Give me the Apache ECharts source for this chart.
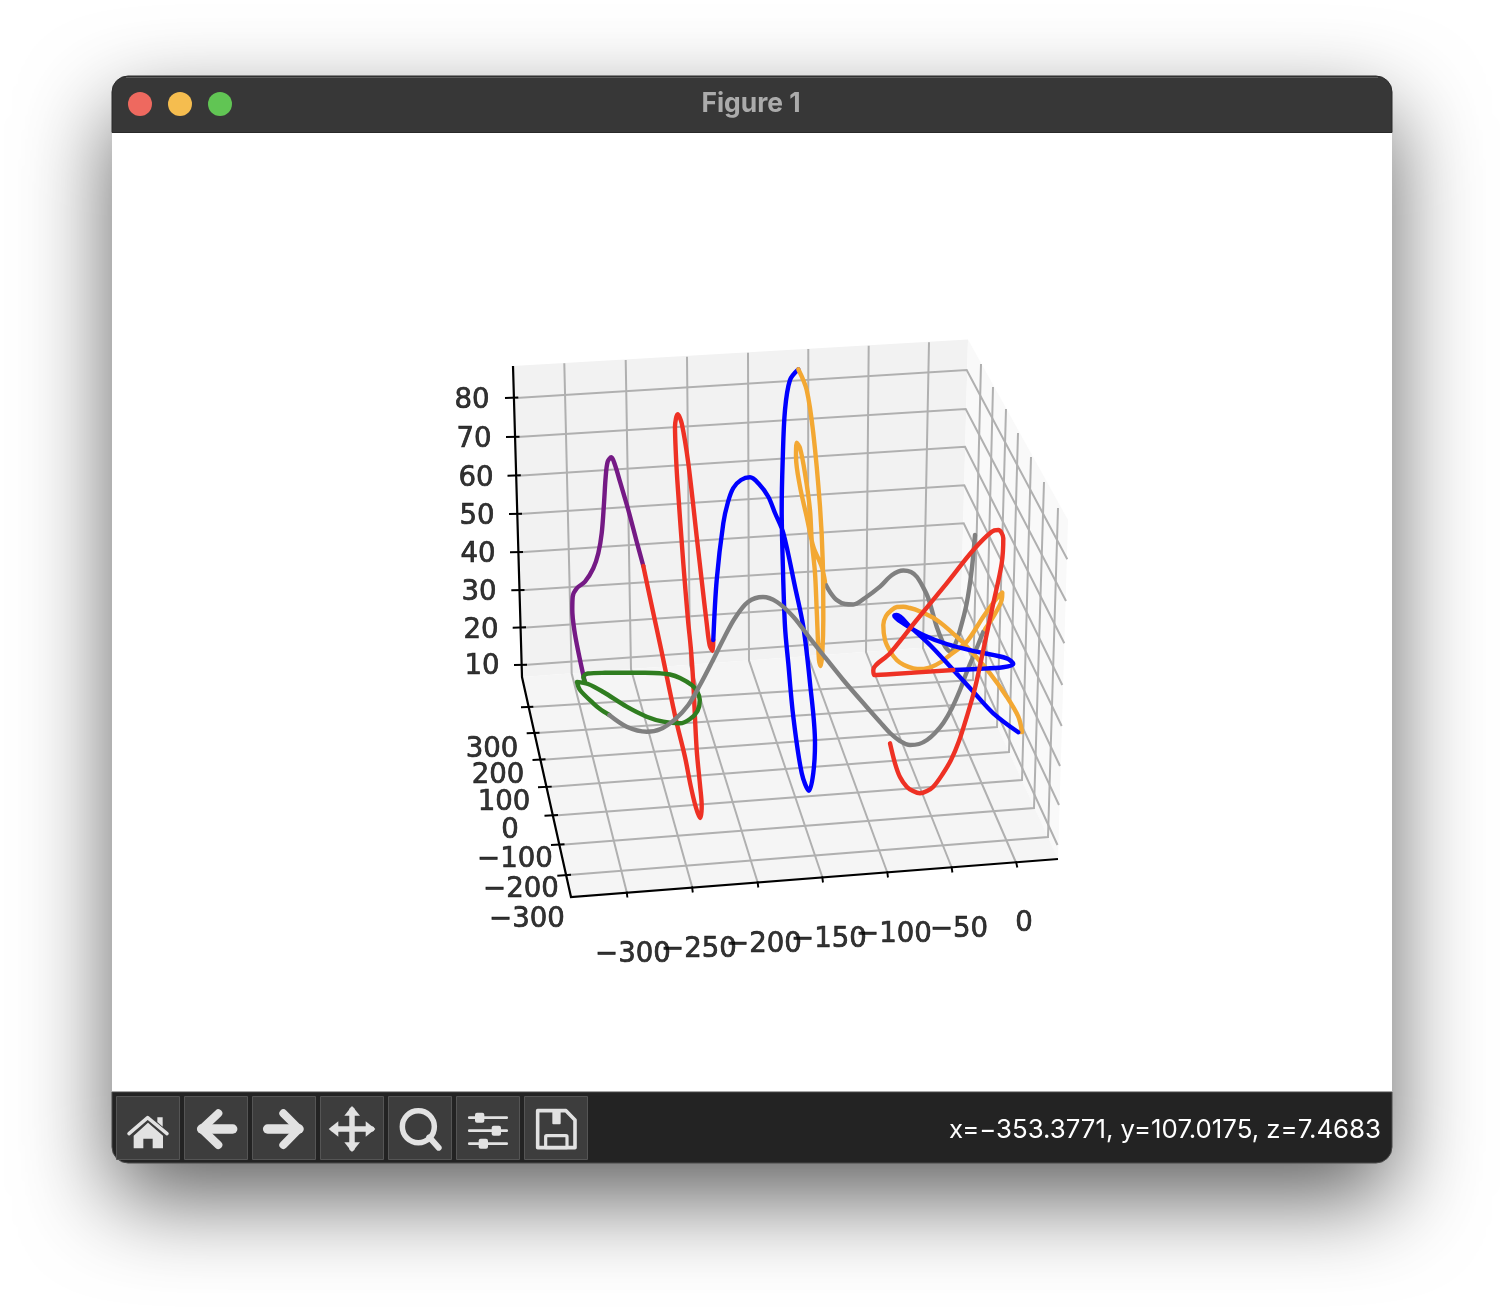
<!DOCTYPE html>
<html><head><meta charset="utf-8">
<style>html,body{margin:0;padding:0;background:#fff}#c{width:1504px;height:1312px}</style>
<script src="https://cdn.jsdelivr.net/npm/echarts@6/dist/echarts.min.js"></script>
</head><body><div id="c"></div>
<script>
// Tick labels and their projected picture-plane positions
const zTickLabels = ['80','70','60','50','40','30','20','10'];
const zLabelPos = [[472,401],[474,440],[476,478.5],[477,517],[478,555],[479,593],[481,630.5],[482,667]];
const yTickLabels = ['300','200','100','0','−100','−200','−300'];
const yLabelPos = [[492,750],[498,776],[504,803],[510,831],[515,860],[521,890],[527,920]];
const xTickLabels = ['−300','−250','−200','−150','−100','−50','0'];
const xLabelPos = [[633,955],[699,950],[764,945],[829,940],[894,935],[959,930],[1024,924]];

// Panes
const backPane = [[513,366],[968,339.5],[960,645],[522,677]];
const rightPane = [[968,339.5],[1068,520],[1058,859],[960,645]];
const floorPane = [[522,677],[960,645],[1058,859],[571,897]];

// Grid polylines
const xGrid = [
 [[564.3,363.3],[571.7,673.5],[626.7,892]],[[625.7,360],[631,669],[692.3,887.5]],[[687,356.7],[690,665],[757.7,882.5]],
 [[748,352.7],[749,660.5],[822.3,877]],[[808.3,349],[808,656],[887.3,872.5]],[[868.7,345.7],[866,652],[951.7,867.5]],[[929,342.3],[923,648],[1016,862.5]]];
const yGrid = [
 [[527.7,707.3],[973,680],[981,364]],[[533.4,733.3],[985,703],[993,387]],[[539.3,760],[997,727],[1006,409]],
 [[545.3,787.3],[1009,752],[1018,433]],[[551.7,815.7],[1022,780],[1031,457]],[[558.2,845],[1034,808],[1044,482]],[[565,875.3],[1048,837],[1058,508]]];
const zGrid = [
 [[515.8,398],[966.7,370],[1067.3,559.3]],[[517,437],[965.7,409],[1066,601]],[[518.1,475.7],[965,446.7],[1064.3,643.3]],
 [[519.2,514],[964.3,485.3],[1062.3,685]],[[520.3,552.3],[963.7,523.3],[1061.7,726]],[[521.4,590.3],[963,561.7],[1060,766]],
 [[522.5,627.7],[961.7,597.7],[1059,805]],[[523.6,665],[960.8,634],[1057.5,845]]];

// Axis lines and ticks
const axisLines = [[[513,366],[522,677],[571,897],[1058,859]]];
const axisTicks = [
 [[505,398],[518.3,397.5]],[[506,437],[519.5,436.7]],[[507.5,475.7],[520.8,475.3]],[[509,514],[522,513.7]],[[510,552.3],[523,552]],[[511.3,590.3],[524.5,590]],[[512.7,627.7],[526,627.3]],[[514,665],[527,664.7]],
 [[521,707.3],[533.3,706.7]],[[526.7,733.3],[539.5,732.7]],[[532.5,760],[545.5,759.3]],[[538,787.3],[551.7,786.6]],[[544.5,815.7],[558,815]],[[551,845],[564.5,844.2]],[[557.3,875.7],[571,874.7]],
 [[626.7,891.7],[627.4,897.5]],[[692,886.5],[692.8,892.5]],[[757.5,881.5],[758.3,887.5]],[[822.2,876.5],[823,882.5]],[[887.2,871.5],[888,877.5]],[[951.5,866.5],[952.4,872.5]],[[1016,861.5],[1017.3,867.5]]];

// Curve segments
const purple = [[643.3,566],[636.7,541.7],[628.3,510],[620,481.7],[615,465],[611.3,457.3],[607.7,461.7],[605.7,476.7],[604,503.3],[601.7,533.3],[598.3,553.3],[593.3,568.3],[585,581.7],[576.7,588.3],[572.7,596.7],[572.3,610],[574.3,630],[578.3,651.7],[585,682.7]];
const green = [[585,682],[583.3,677],[588,673.5],[605,672.8],[626.7,672.7],[645,672.8],[660,673.3],[670,674.5],[680,678],[691.7,685],[697,691],[699.8,700],[697.5,711],[690,719],[680,723.3],[663.3,721.7],[646.7,716.7],[626.7,706.7],[603.3,692],[588,684],[577,682],[580,690],[593.3,703.3],[600,709],[609.3,715]];
const redLeft = [[713.3,640],[712.6,651],[709.6,645],[706.7,623.3],[702,583],[696.7,536.7],[688.3,463.3],[681.7,423.3],[677.7,414.3],[675,426.7],[675.7,450],[677.3,480],[683.3,563.3],[688,620],[691,650],[693.3,683],[696.7,750],[700,785],[701.7,806],[700,818],[695.5,806],[690.5,785],[685,757],[676.7,723],[670,692],[661.7,652],[652,607],[643.3,566]];
const blueLeft = [[713.3,640],[716.7,580],[723.3,523.3],[728,502],[733.3,488],[741,480],[750,477.3],[759,484],[768.3,496.7],[775,513],[783.3,533],[795,586.7],[803.3,626.7],[810,683],[815,743],[813.3,773],[809,790.7],[801.7,773],[793.3,716.7],[788.3,663.3],[785,626.7],[782.7,560],[781.7,510],[782.7,460],[785,410],[790,380],[798.3,369.3]];
const orangeLeft = [[798.3,369.3],[806.7,390],[813.3,433.3],[820,506.7],[822.7,560],[823.3,620],[822.3,653.3],[820.7,666],[819,660],[816.7,610],[815,573],[811.7,540],[810,510],[805,473.3],[800,448],[796.7,442.7],[796,456.7],[800,486.7],[806.7,516.7],[813.3,546.7],[821.7,566.7],[825,581.7]];
const grayA = [[825,583.3],[830,592],[836.7,600],[845,604],[853.3,604.5],[865,598],[880,586.7],[892,575],[903.3,570.5],[911,572],[917,577],[923,587],[928.3,598.3],[936.7,626.7],[943.3,643.3],[947,649],[951,652],[955,645],[960,630],[966.7,603.3],[971.7,570],[975,535]];
const grayB = [[609.3,715],[626.7,726.7],[646.7,731.7],[660,729.3],[675,719.3],[688.3,705],[700,685],[712,662],[724,638],[735,618],[748,602],[763,597],[777,602],[793.3,616.7],[810,638.3],[820,651],[843.3,680],[866.7,707],[880,722],[890,733],[900,741],[910,745],[919,744],[927,740],[935,733],[943.3,723],[952,708],[960,690],[966,674],[973,657],[978,645],[983.3,631.7]];
const orangeRight = [[1019.3,731.7],[1022,732],[1018.3,716.7],[1006.7,696.7],[990,673.3],[970,650],[956.7,636.7],[936.7,620],[918.3,610.7],[910,608],[903.3,606.7],[897,607],[891.7,610],[886,616],[883.3,625],[885,640],[890,651],[896.7,660],[904,665],[913.3,668.3],[922,669],[931.7,666.7],[941,662],[950,655],[966.7,641.7],[983.3,616.7],[996.7,598.3],[1002.3,592.7],[1001.7,600],[993.3,616.7],[985,629.3]];
const blueRight = [[953.3,670],[976.7,669],[1003,667.3],[1013.3,664],[1006.7,658.3],[976.7,651.7],[946.7,644],[923.3,635],[903.3,623.3],[894.3,615.7],[896.7,615],[910,626.7],[930,645],[953.3,670],[973.3,691.7],[993.3,713.3],[1018.3,732.3]];
const redRight = [[890,743.3],[895,763.3],[900,777],[906.7,786.7],[913,791],[920,793.3],[927,791],[933.3,786.7],[942,775],[951,760],[959,741],[966.7,717],[975,688],[983.3,650],[993.3,603.3],[1001.7,563.3],[1003.3,538.3],[998.3,530],[991.7,531.7],[973.3,550],[946.7,583.3],[916.7,620],[890,653.3],[873.3,670],[874,675],[893.3,674],[953.3,670]];

const RED='#ee3124',BLUE='#0000ff',ORANGE='#f3a833',PURPLE='#751a85',GREEN='#2f7d20',GRAY='#808080';
const curves=[[purple,PURPLE],[redLeft,RED],[blueLeft,BLUE],[grayA,GRAY],[orangeLeft,ORANGE],[green,GREEN],[grayB,GRAY],[orangeRight,ORANGE],[blueRight,BLUE],[redRight,RED]];

function pane(pts,color,z){return {type:'custom',coordinateSystem:'cartesian2d',silent:true,z:z,clip:false,
  data:[[pts[0][0],pts[0][1]]],encode:{x:0,y:1},
  renderItem:(p,api)=>({type:'polygon',shape:{points:pts.map(q=>api.coord(q))},style:{fill:color}})};}
function polylines(list,color,width,z){return {type:'lines',coordinateSystem:'cartesian2d',polyline:true,silent:true,z:z,
  lineStyle:{color:color,width:width,opacity:1},data:list.map(c=>({coords:c}))};}
function labels(names,pos){return {type:'scatter',symbolSize:0,silent:true,z:6,
  data:names.map((n,i)=>({value:pos[i],name:n})),
  label:{show:true,position:'inside',formatter:'{b}',color:'#000',fontFamily:'DejaVu Sans',fontSize:27.6,textBorderColor:'#000',textBorderWidth:0.7}};}

const series=[
 pane(backPane,'#f2f2f2',2),pane(rightPane,'#f9f9f9',2),pane(floorPane,'#f5f5f5',2),
 polylines(xGrid,'#b0b0b0',2,3),polylines(yGrid,'#b0b0b0',2,3),polylines(zGrid,'#b0b0b0',2,3),
 polylines(axisLines,'#000',2.2,4),polylines(axisTicks,'#000',1.9,4),
 labels(zTickLabels,zLabelPos),labels(yTickLabels,yLabelPos),labels(xTickLabels,xLabelPos)
];
curves.forEach((c,i)=>series.push({type:'line',data:c[0],showSymbol:false,smooth:0.33,silent:true,z:5,zlevel:0,
  lineStyle:{color:c[1],width:4.4,cap:'round',join:'round'}}));

// Window chrome
const P=(x,y,ox,oy)=>[ox+x/3,oy+y/3];
const T=(x,y)=>P(x,y,100,1080);
const ICON='#e2e2e2';
const g=[];
g.push({type:'rect',z:0,shape:{x:112,y:76,width:1280,height:1087,r:16},style:{fill:'#fff',shadowBlur:90,shadowOffsetY:36,shadowColor:'rgba(0,0,0,0.62)'}});
g.push({type:'rect',z:0,shape:{x:112,y:76,width:1280,height:56.5,r:[16,16,0,0]},style:{fill:'#373737',stroke:'#2a2a2a',lineWidth:1}});
g.push({type:'line',z:0,shape:{x1:126,y1:77.5,x2:1378,y2:77.5},style:{stroke:'#5c5c5c',lineWidth:1}});
g.push({type:'rect',z:0,shape:{x:112,y:1092,width:1280,height:71,r:[0,0,16,16]},style:{fill:'#232323',stroke:'#4a4a4a',lineWidth:1}});
[[140,'#ee695f'],[180,'#f5bd4f'],[220,'#61c554']].forEach(d=>g.push({type:'circle',z:0,shape:{cx:d[0],cy:104,r:12},style:{fill:d[1]}}));
g.push({type:'text',z:0,style:{text:'Figure 1',x:751,y:104,align:'center',verticalAlign:'middle',fill:'#ababab',font:'bold 26.4px Inter'}});
g.push({type:'text',z:0,style:{text:'x=−353.3771, y=107.0175, z=7.4683',x:1381,y:1130,align:'right',verticalAlign:'middle',fill:'#fff',font:'25.8px Inter'}});
[116,184,252,320,388,456,524].forEach(x=>g.push({type:'rect',z:0,shape:{x:x+.5,y:1096.5,width:63,height:63},style:{fill:'#3d3d3d',stroke:'#555',lineWidth:1}}));
const poly=(pts,fill)=>g.push({type:'polygon',z:1,shape:{points:pts.map(p=>T(p[0],p[1]))},style:{fill:fill||ICON}});
const pl=(pts,w)=>g.push({type:'polyline',z:1,shape:{points:pts.map(p=>T(p[0],p[1]))},style:{stroke:ICON,lineWidth:w,fill:null,lineCap:'round',lineJoin:'round'}});
const tc=(x,y,r,st)=>{const p=T(x,y);g.push({type:'circle',z:1,shape:{cx:p[0],cy:p[1],r:r},style:st});};
const trr=(x,y,w,h,r,st)=>{const p=T(x,y);g.push({type:'rect',z:1,shape:{x:p[0],y:p[1],width:w/3,height:h/3,r:r},style:st});};
// home
pl([[87,161],[143,113],[201,161]],3.5);
poly([[172,112],[188,112],[188,140],[172,126]]);
poly([[101,167],[144,128],[189,167],[189,205],[158,205],[158,176],[130,176],[130,205],[101,205]]);
// back
pl([[355,100],[305,147],[355,195]],8); pl([[305,147],[398,147]],9.5);
// forward
pl([[550,100],[597,147],[550,195]],8); pl([[503,147],[597,147]],9.5);
// move
pl([[700,147],[815,147]],5.5); pl([[756,90],[756,205]],5.5);
poly([[756,78],[780,107],[733,107]]);poly([[756,216],[780,187],[733,187]]);poly([[686,147],[715,124],[715,170]]);poly([[826,147],[797,124],[797,170]]);
// zoom
tc(955,140,16,{fill:null,stroke:ICON,lineWidth:5.5});
pl([[988,172],[1016,203]],6);
// sliders
pl([[1108,113],[1220,113]],2.8);pl([[1108,152],[1220,152]],2.8);pl([[1108,191],[1220,191]],2.8);
trr(1125,98,28,30,2,{fill:ICON});trr(1175,137,28,30,2,{fill:ICON});trr(1136,176,28,30,2,{fill:ICON});
// save
g.push({type:'polygon',z:1,shape:{points:[[1313,92],[1398,92],[1425,120],[1425,203],[1313,203]].map(p=>T(p[0],p[1]))},style:{fill:null,stroke:ICON,lineWidth:3.6,lineJoin:'round'}});
trr(1357,93,25,40,1,{fill:ICON});
trr(1337,167,64,36,1,{fill:null,stroke:ICON,lineWidth:3.2});

const chart=echarts.init(document.getElementById('c'),null,{renderer:'canvas'});
chart.setOption({animation:false,backgroundColor:'#fff',
 grid:{left:0,right:0,top:0,bottom:0,show:false},
 xAxis:{type:'value',min:0,max:1504,show:false},
 yAxis:{type:'value',min:0,max:1312,inverse:true,show:false},
 graphic:{elements:g},series:series});
</script></body></html>
